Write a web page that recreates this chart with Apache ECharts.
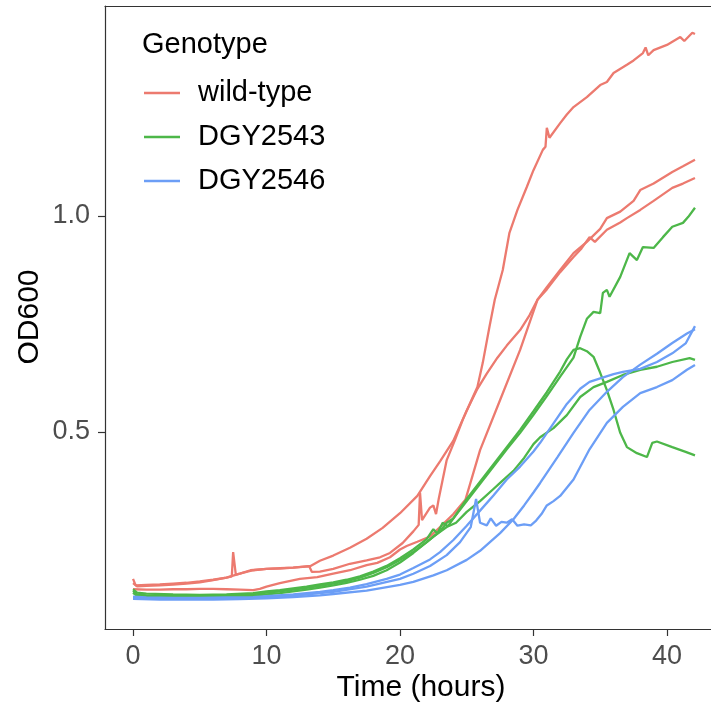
<!DOCTYPE html>
<html>
<head>
<meta charset="utf-8">
<script src="https://cdn.jsdelivr.net/npm/echarts@6/dist/echarts.min.js"></script>
<style>
html,body{margin:0;padding:0;background:#fff;}
#chart{width:711px;height:704px;}
</style>
</head>
<body>
<div id="chart"></div>
<script>
// ---- data: [time (hours), OD600] ----
const genotypes = ['wild-type', 'DGY2543', 'DGY2546'];
const xTicks = [0, 10, 20, 30, 40];
const yTicks = [0.5, 1.0];

const wt1 = [[0,0.150],[0.3,0.143],[1,0.144],[2,0.145],[3,0.147],[4,0.149],[5,0.152],[6,0.157],[7,0.163],[8,0.172],[8.8,0.180],[10,0.183],[11,0.185],[12,0.186],[13.3,0.190],[14,0.202],[15,0.214],[16.25,0.232],[17.5,0.253],[18.7,0.278],[20,0.312],[21.3,0.352],[22.25,0.398],[23,0.432],[24,0.48],[25,0.55],[25.8,0.60],[26.5,0.635],[27.3,0.672],[28,0.70],[29,0.736],[29.7,0.77],[30.3,0.806],[31,0.83],[32,0.87],[33,0.905],[33.6,0.925],[34.2,0.951],[34.6,0.94],[35.5,0.968],[36.5,0.985],[37,0.995],[38,1.014],[39,1.035],[40.4,1.065],[41.2,1.075],[42.1,1.088]];
const wt2 = [[0,0.16],[0.2,0.145],[1,0.146],[2,0.147],[3,0.149],[4,0.151],[5,0.154],[6,0.158],[7,0.163],[7.4,0.166],[7.5,0.222],[7.7,0.17],[8,0.172],[9,0.18],[10,0.183],[11,0.184],[12,0.186],[13.2,0.189],[13.4,0.176],[14,0.177],[15,0.183],[16.25,0.195],[17.5,0.203],[18.5,0.21],[19.25,0.22],[20.2,0.243],[21,0.27],[21.4,0.285],[21.5,0.36],[21.65,0.296],[22.25,0.325],[22.5,0.33],[22.7,0.31],[22.9,0.345],[23.5,0.435],[24.1,0.48],[24.7,0.528],[25.3,0.57],[25.8,0.604],[26.2,0.66],[26.7,0.743],[27.1,0.806],[27.7,0.875],[28.2,0.961],[28.8,1.014],[29.5,1.067],[30.0,1.106],[30.7,1.153],[30.9,1.16],[31.0,1.204],[31.2,1.181],[32,1.215],[32.5,1.235],[33,1.252],[34,1.275],[35,1.303],[35.5,1.31],[36,1.331],[37,1.35],[37.5,1.36],[38.2,1.377],[38.4,1.39],[38.6,1.372],[39,1.384],[40,1.396],[41,1.414],[41.3,1.405],[41.9,1.424],[42.1,1.421]];
const wt3 = [[0,0.136],[1,0.135],[2,0.135],[3,0.136],[4,0.136],[5,0.137],[6,0.137],[7,0.136],[8,0.135],[9,0.134],[9.5,0.137],[10,0.142],[11,0.150],[12.5,0.160],[13.8,0.164],[15,0.172],[16.25,0.180],[17.5,0.192],[18.3,0.197],[19.25,0.21],[20,0.228],[20.5,0.236],[21.3,0.246],[22.25,0.258],[23,0.28],[24,0.31],[24.9,0.343],[26,0.458],[27.5,0.574],[29,0.69],[30.3,0.806],[31,0.835],[32,0.875],[33,0.914],[34,0.94],[35,0.97],[35.5,0.995],[36.5,1.01],[37.5,1.035],[38,1.06],[39,1.075],[40.4,1.102],[41.2,1.115],[42.1,1.13]];

const g1 = [[0,0.136],[0.3,0.128],[1,0.126],[3,0.124],[5,0.123],[7,0.124],[9,0.127],[10,0.131],[11,0.134],[12,0.138],[13,0.142],[14,0.147],[15,0.152],[16,0.158],[17,0.166],[18,0.177],[19,0.19],[20,0.208],[21,0.228],[22,0.252],[22.5,0.275],[22.8,0.265],[23.2,0.29],[23.6,0.282],[24,0.30],[25,0.345],[26,0.385],[27,0.425],[28,0.465],[29,0.505],[30,0.548],[31,0.592],[32,0.64],[32.5,0.668],[33,0.69],[33.5,0.694],[34,0.687],[34.5,0.674],[35,0.637],[35.5,0.597],[36,0.551],[36.5,0.498],[37,0.465],[37.75,0.451],[38.5,0.442],[38.9,0.475],[39.25,0.478],[40.4,0.465],[41.4,0.454],[42.1,0.446]];
const g2 = [[0,0.132],[0.3,0.124],[1,0.122],[3,0.121],[5,0.121],[7,0.122],[9,0.125],[10,0.128],[11,0.131],[12,0.135],[13,0.139],[14,0.144],[15,0.149],[16,0.155],[17,0.163],[18,0.174],[19,0.187],[20,0.204],[21,0.222],[22,0.245],[23,0.27],[23.5,0.29],[24,0.30],[25,0.34],[26,0.38],[27,0.42],[28,0.46],[29,0.498],[30,0.54],[31,0.583],[32,0.628],[33,0.672],[33.5,0.72],[34,0.762],[34.5,0.778],[35,0.775],[35.2,0.822],[35.5,0.829],[35.7,0.813],[36.5,0.859],[37.2,0.914],[37.75,0.898],[38.2,0.928],[39,0.926],[39.7,0.951],[40.4,0.975],[41.2,0.984],[41.6,0.998],[42.1,1.019]];
const g3 = [[0,0.128],[0.3,0.121],[1,0.119],[3,0.118],[5,0.118],[7,0.119],[9,0.121],[10,0.124],[11,0.127],[12,0.131],[13,0.135],[14,0.14],[15,0.145],[16,0.151],[17,0.158],[18,0.167],[19,0.18],[20,0.198],[21,0.22],[22,0.245],[22.5,0.258],[23.5,0.28],[24.2,0.29],[25,0.315],[26,0.34],[27,0.368],[27.5,0.382],[28.5,0.41],[29.3,0.44],[30,0.472],[30.5,0.488],[31.5,0.509],[32.5,0.539],[33.5,0.581],[34.5,0.604],[35.5,0.616],[36.7,0.632],[38,0.644],[39.25,0.651],[40.4,0.662],[41.7,0.671],[42.1,0.667]];

const b1 = [[0,0.119],[1,0.117],[3,0.116],[5,0.116],[7,0.117],[9,0.118],[10,0.12],[12,0.124],[14,0.13],[15,0.134],[16.25,0.14],[17.5,0.148],[19,0.16],[20,0.17],[21,0.185],[22.25,0.205],[23,0.222],[24,0.25],[25,0.283],[26,0.318],[27,0.353],[28,0.39],[29,0.42],[30,0.455],[30.5,0.475],[31.5,0.52],[32.5,0.565],[33.5,0.60],[34.2,0.616],[35,0.624],[36,0.634],[36.7,0.639],[38,0.646],[39.25,0.662],[40.4,0.682],[41.4,0.705],[42.1,0.745]];
const b2 = [[0,0.114],[2,0.112],[4,0.112],[6,0.112],[8,0.113],[10,0.115],[12,0.118],[14,0.122],[15,0.125],[17.5,0.133],[20,0.146],[21,0.153],[22.5,0.168],[23.5,0.18],[25,0.204],[26,0.225],[27.5,0.266],[28.5,0.298],[29.3,0.33],[30,0.36],[30.5,0.382],[31.8,0.442],[33,0.498],[34.2,0.551],[35.5,0.593],[36.7,0.627],[38,0.656],[39.25,0.681],[40.4,0.706],[41.5,0.728],[42.1,0.738]];
const b3 = [[0,0.116],[2,0.114],[4,0.114],[6,0.114],[8,0.115],[10,0.117],[12,0.121],[14,0.127],[15,0.13],[17.5,0.142],[20,0.16],[21,0.172],[22.25,0.19],[23.5,0.215],[24.5,0.245],[25.3,0.28],[25.7,0.345],[26.0,0.29],[26.5,0.284],[26.8,0.3],[27.2,0.283],[27.6,0.292],[28,0.29],[28.4,0.298],[28.8,0.283],[29.3,0.286],[29.8,0.284],[30.2,0.295],[30.6,0.31],[31,0.33],[31.5,0.34],[32,0.352],[33,0.39],[34.2,0.46],[35.5,0.521],[36.7,0.558],[38,0.59],[39.25,0.604],[40.4,0.62],[41.5,0.644],[42.1,0.655]];

const colors = {'wild-type': '#EC7A6F', 'DGY2543': '#4DB749', 'DGY2546': '#6C9EF6'};
const groups = [
  ['wild-type', [wt1, wt2, wt3]],
  ['DGY2543', [g1, g2, g3]],
  ['DGY2546', [b1, b2, b3]]
];

const FONT = 'Liberation Sans, Arial, sans-serif';
const chart = echarts.init(document.getElementById('chart'), null, {renderer: 'canvas'});

const series = [];
groups.forEach(([name, arrs]) => {
  arrs.forEach(d => {
    series.push({
      type: 'line', name: name, data: d, xAxisIndex: 0, yAxisIndex: 0,
      showSymbol: false, symbol: 'none', smooth: false,
      lineStyle: {color: colors[name], width: 2.3},
      itemStyle: {color: colors[name]},
      emphasis: {disabled: true}
    });
  });
});

chart.setOption({
  animation: false,
  backgroundColor: '#ffffff',
  grid: {left: 105, right: 0, top: 6, bottom: 75},
  xAxis: [{
    type: 'value', min: -2.1, max: 43.3, position: 'bottom',
    axisLine: {show: true, lineStyle: {color: '#333333', width: 1.2}},
    axisTick: {show: true, length: 7, customValues: xTicks, lineStyle: {color: '#333333', width: 1.2}},
    axisLabel: {customValues: xTicks, color: '#4D4D4D', fontSize: 27, fontFamily: FONT, margin: 14},
    splitLine: {show: false}
  }, {
    type: 'value', min: -2.1, max: 43.3, position: 'top',
    axisLine: {show: true, onZero: false, lineStyle: {color: '#333333', width: 1.2}},
    axisTick: {show: false}, axisLabel: {show: false}, splitLine: {show: false}
  }],
  yAxis: [{
    type: 'value', min: 0.044, max: 1.486,
    axisLine: {show: true, onZero: false, lineStyle: {color: '#333333', width: 1.2}},
    axisTick: {show: true, length: 7, customValues: yTicks, lineStyle: {color: '#333333', width: 1.2}},
    axisLabel: {customValues: yTicks, color: '#4D4D4D', fontSize: 27, fontFamily: FONT, margin: 15,
      formatter: v => Number(v).toFixed(1)},
    splitLine: {show: false}
  }],
  legend: {
    data: genotypes, orient: 'vertical', left: 139, top: 73,
    itemWidth: 36, itemHeight: 14, itemGap: 14,
    icon: 'path://M0,0 L36,0 L36,2.4 L0,2.4 Z',
    textStyle: {fontSize: 29, fontFamily: FONT, color: '#000', lineHeight: 30, padding: [0, 0, 0, 13]},
    selectedMode: false
  },
  graphic: [
    {type: 'text', x: 142, y: 45, style: {text: 'Genotype', fontSize: 29, fontFamily: FONT, fill: '#000', align: 'left', verticalAlign: 'middle'}},
    {type: 'text', x: 421, y: 688, style: {text: 'Time (hours)', fontSize: 30, fontFamily: FONT, fill: '#000', align: 'center', verticalAlign: 'middle'}},
    {type: 'text', x: 30, y: 317, rotation: Math.PI / 2, style: {text: 'OD600', fontSize: 30, fontFamily: FONT, fill: '#000', align: 'center', verticalAlign: 'middle'}}
  ],
  series: series
});
</script>
</body>
</html>
